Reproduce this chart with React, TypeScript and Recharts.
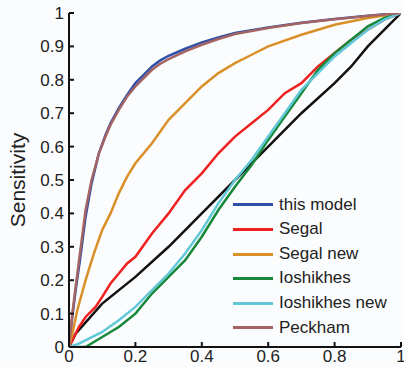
import { LineChart, Line, XAxis, YAxis, Label } from "recharts";

// ROC curves: [false positive rate, sensitivity]
const thisModel: [number, number][] = [
  [0, 0], [0.01, 0.09], [0.02, 0.17], [0.033, 0.26], [0.05, 0.39], [0.068, 0.49],
  [0.09, 0.58], [0.11, 0.635], [0.125, 0.67], [0.15, 0.715], [0.175, 0.755],
  [0.2, 0.79], [0.225, 0.815], [0.25, 0.84], [0.275, 0.858], [0.3, 0.872],
  [0.35, 0.893], [0.4, 0.912], [0.45, 0.927], [0.5, 0.94], [0.6, 0.957],
  [0.7, 0.971], [0.8, 0.982], [0.9, 0.992], [1, 1],
];
const segal: [number, number][] = [
  [0, 0], [0.01, 0.02], [0.03, 0.06], [0.05, 0.09], [0.08, 0.12], [0.1, 0.15],
  [0.125, 0.19], [0.15, 0.22], [0.175, 0.25], [0.2, 0.27], [0.25, 0.34],
  [0.3, 0.4], [0.35, 0.47], [0.4, 0.52], [0.45, 0.58], [0.5, 0.63], [0.55, 0.67],
  [0.6, 0.71], [0.65, 0.76], [0.7, 0.79], [0.75, 0.84], [0.8, 0.88], [0.85, 0.92],
  [0.9, 0.95], [0.95, 0.98], [1, 1],
];
const segalNew: [number, number][] = [
  [0, 0], [0.01, 0.04], [0.025, 0.11], [0.05, 0.2], [0.075, 0.28], [0.1, 0.35],
  [0.125, 0.4], [0.15, 0.46], [0.175, 0.51], [0.2, 0.55], [0.25, 0.61],
  [0.3, 0.68], [0.35, 0.73], [0.4, 0.78], [0.45, 0.82], [0.5, 0.85],
  [0.55, 0.875], [0.6, 0.9], [0.7, 0.935], [0.8, 0.965], [0.9, 0.985], [1, 1],
];
const ioshikhes: [number, number][] = [
  [0, 0], [0.05, 0.0], [0.1, 0.03], [0.15, 0.06], [0.2, 0.1], [0.25, 0.16],
  [0.3, 0.21], [0.35, 0.26], [0.4, 0.33], [0.45, 0.41], [0.5, 0.48],
  [0.55, 0.545], [0.6, 0.62], [0.65, 0.69], [0.7, 0.76], [0.75, 0.83],
  [0.8, 0.88], [0.85, 0.92], [0.9, 0.96], [0.95, 0.985], [1, 1],
];
const ioshikhesNew: [number, number][] = [
  [0, 0], [0.03, 0.01], [0.1, 0.045], [0.15, 0.08], [0.2, 0.12], [0.25, 0.17],
  [0.3, 0.22], [0.35, 0.28], [0.4, 0.35], [0.45, 0.43], [0.5, 0.5], [0.55, 0.56],
  [0.6, 0.63], [0.65, 0.7], [0.7, 0.77], [0.75, 0.82], [0.8, 0.87], [0.85, 0.91],
  [0.9, 0.95], [0.95, 0.98], [1, 1],
];
const peckham: [number, number][] = [
  [0, 0], [0.01, 0.1], [0.02, 0.18], [0.033, 0.28], [0.05, 0.41], [0.068, 0.5],
  [0.09, 0.58], [0.11, 0.63], [0.125, 0.665], [0.15, 0.71], [0.175, 0.75],
  [0.2, 0.78], [0.225, 0.805], [0.25, 0.83], [0.275, 0.848], [0.3, 0.862],
  [0.35, 0.885], [0.4, 0.905], [0.45, 0.922], [0.5, 0.937], [0.6, 0.955],
  [0.7, 0.97], [0.8, 0.981], [0.9, 0.991], [1, 1],
];
const chance: [number, number][] = [
  [0, 0], [0.02, 0.04], [0.1, 0.13], [0.2, 0.21], [0.3, 0.3], [0.4, 0.4],
  [0.5, 0.5], [0.6, 0.6], [0.7, 0.7], [0.8, 0.79], [0.85, 0.84], [0.9, 0.9], [1, 1],
];

const xTicks = [0, 0.2, 0.4, 0.6, 0.8, 1];
const yTicks = [0, 0.1, 0.2, 0.3, 0.4, 0.5, 0.6, 0.7, 0.8, 0.9, 1];

const series = [
  { name: "chance", data: chance, color: "#111111", legend: false },
  { name: "this model", data: thisModel, color: "#2f4fa8", legend: true },
  { name: "Segal", data: segal, color: "#ee2020", legend: true },
  { name: "Segal new", data: segalNew, color: "#d99028", legend: true },
  { name: "Ioshikhes", data: ioshikhes, color: "#17883a", legend: true },
  { name: "Ioshikhes new", data: ioshikhesNew, color: "#62c8d8", legend: true },
  { name: "Peckham", data: peckham, color: "#a46464", legend: true },
];

const font = "'Liberation Sans', Arial, sans-serif";
const fmt = (v: number) => (v === 0 || v === 1 ? String(v) : v.toFixed(1));

function LegendBox() {
  return (
    <div
      style={{
        position: "absolute",
        left: 233,
        top: 192.7,
        fontFamily: font,
        fontSize: 17,
        color: "#222",
        lineHeight: "24.6px",
      }}
    >
      {series
        .filter((s) => s.legend)
        .map((s) => (
          <div key={s.name} style={{ display: "flex", alignItems: "center", height: 24.6 }}>
            <div style={{ width: 40, height: 3, background: s.color, marginRight: 6 }} />
            <span>{s.name}</span>
          </div>
        ))}
    </div>
  );
}

export default function App() {
  return (
    <div style={{ position: "absolute", left: 0, top: 0, width: 404, height: 367, background: "#fbfcfd" }}>
      <LineChart width={404} height={367} margin={{ top: 13, right: 3, bottom: 0, left: 0 }}>
        <XAxis
          dataKey="0"
          type="number"
          domain={[0, 1]}
          ticks={xTicks}
          interval={0}
          tickFormatter={fmt}
          tickSize={-5}
          tickMargin={8}
          height={20}
          stroke="#111"
          strokeWidth={2}
          tick={{ fill: "#222", fontSize: 17, fontFamily: font }}
          allowDataOverflow
        />
        <XAxis
          xAxisId="top"
          orientation="top"
          type="number"
          domain={[0, 1]}
          ticks={xTicks}
          interval={0}
          tickFormatter={() => ""}
          tickSize={-5}
          height={0}
          stroke="#111"
          strokeWidth={2}
        />
        <YAxis
          type="number"
          domain={[0, 1]}
          ticks={yTicks}
          interval={0}
          tickFormatter={fmt}
          tickSize={-5}
          tickMargin={10}
          width={69}
          stroke="#111"
          strokeWidth={2}
          tick={{ fill: "#222", fontSize: 17, fontFamily: font }}
          allowDataOverflow
        >
          <Label
            content={(props: any) => {
              const vb = props.viewBox || { y: 13, height: 334 };
              const cy = vb.y + vb.height / 2;
              return (
                <text
                  x={17}
                  y={cy}
                  transform={`rotate(-90, 17, ${cy})`}
                  textAnchor="middle"
                  dominantBaseline="central"
                  fontSize={21}
                  fontFamily={font}
                  fill="#222"
                >
                  Sensitivity
                </text>
              );
            }}
          />
        </YAxis>
        <YAxis
          yAxisId="right"
          orientation="right"
          type="number"
          domain={[0, 1]}
          ticks={yTicks}
          interval={0}
          tickFormatter={() => ""}
          tickSize={-5}
          width={0}
          stroke="#111"
          strokeWidth={2}
        />
        {series.map((s) => (
          <Line
            key={s.name}
            data={s.data}
            dataKey="1"
            name={s.name}
            type="linear"
            stroke={s.color}
            strokeWidth={2.5}
            dot={false}
            isAnimationActive={false}
          />
        ))}
      </LineChart>
      <LegendBox />
    </div>
  );
}
